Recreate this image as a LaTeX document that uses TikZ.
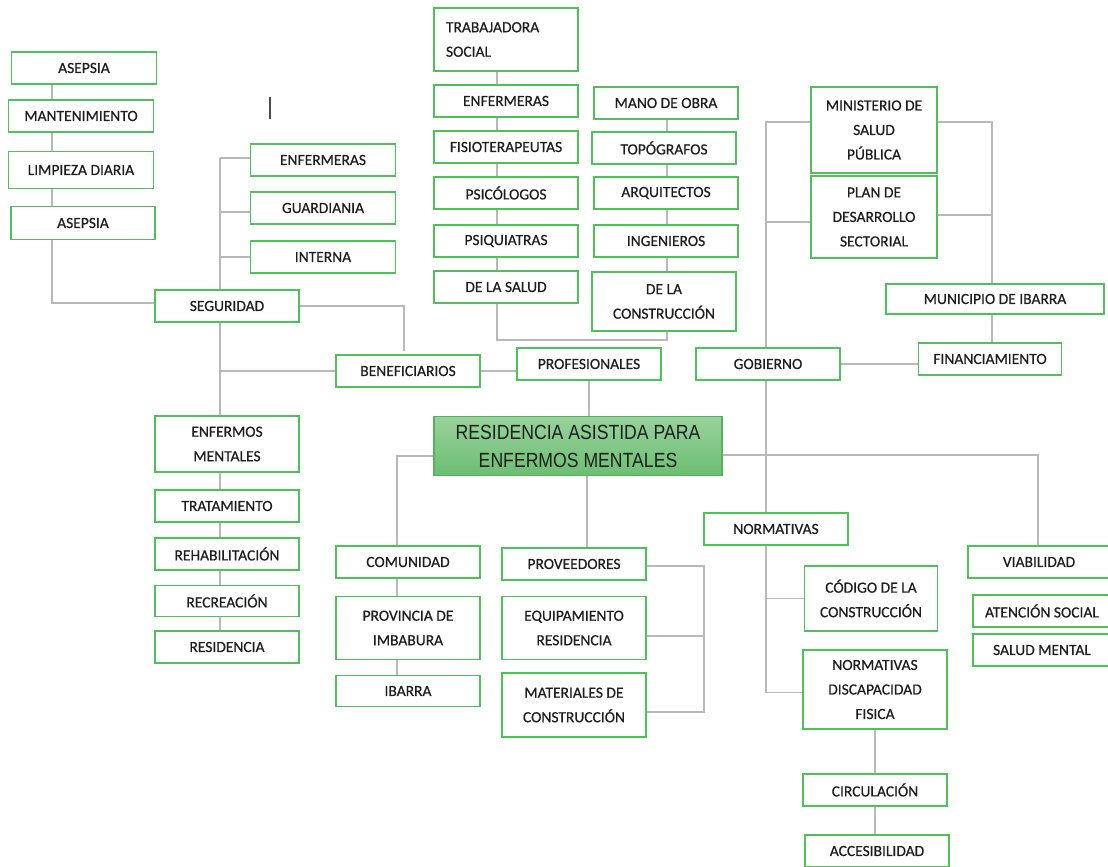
\documentclass[tikz,border=0pt]{standalone}
\usepackage{fontspec}
\setmainfont{Carlito}
\newfontfamily\boxfont[FakeBold=0.5]{Carlito}
\newfontfamily\centralfont[FakeStretch=0.86]{Liberation Sans}
\usetikzlibrary{calc,backgrounds}
\definecolor{boxgreen}{RGB}{80,192,90}
\definecolor{linegray}{RGB}{185,185,185}
\definecolor{txt}{RGB}{30,30,30}
\definecolor{ctop}{RGB}{152,210,156}
\definecolor{cbot}{RGB}{108,190,114}
\definecolor{cborder}{RGB}{90,176,96}
\begin{document}
\begin{tikzpicture}[x=1pt,y=-1pt,
  box/.style={draw=boxgreen, line width=1.4pt, fill=white, inner sep=0pt,
    minimum width=144pt, minimum height=32pt, align=center, text=txt,
    font=\boxfont\fontsize{15.5}{24.5}\selectfont},
  conn/.style={draw=linegray, line width=1.4pt},
  centralbox/.style={draw=cborder, line width=1.4pt, top color=ctop, bottom color=cbot,
    inner sep=0pt, minimum width=288pt, minimum height=59pt, align=center, text=txt,
    font=\centralfont\fontsize{20.5}{28}\selectfont}]
\useasboundingbox (0,0) rectangle (1108,867);

% left column
\node[box, minimum width=145pt] (as1) at (84,68) {ASEPSIA};
\node[box, minimum width=145pt] (mant) at (81,116) {MANTENIMIENTO};
\node[box, minimum width=145pt, minimum height=37pt] (limp) at (81,170) {LIMPIEZA DIARIA};
\node[box, minimum height=33pt] (as2) at (83,223) {ASEPSIA};
\node[box] (seg) at (227,306) {SEGURIDAD};
\node[box, minimum width=145pt] (enf1) at (323,160) {ENFERMERAS};
\node[box, minimum width=145pt] (guard) at (323,208) {GUARDIANIA};
\node[box, minimum width=145pt] (intern) at (323,257) {INTERNA};
\node[box] (benef) at (408,371) {BENEFICIARIOS};
\node[box] (prof) at (589,364) {PROFESIONALES};
\node[centralbox] (central) at (578,446) {RESIDENCIA ASISTIDA PARA\\ENFERMOS MENTALES};
\node[box, minimum height=56pt] (enfm) at (227,444) {ENFERMOS\\MENTALES};
\node[box] (trat) at (227,506) {TRATAMIENTO};
\node[box] (rehab) at (227,554) {REHABILITACIÓN};
\node[box, minimum height=31pt] (recr) at (227,601) {RECREACIÓN};
\node[box] (resid) at (227,647) {RESIDENCIA};
\node[box] (com) at (408,562) {COMUNIDAD};
\node[box, minimum height=63pt] (prov) at (408,628) {PROVINCIA DE\\IMBABURA};
\node[box, minimum height=31pt] (ibarra) at (408,691) {IBARRA};
\node[box] (proveed) at (574,564) {PROVEEDORES};
\node[box, minimum height=63pt] (equip) at (574,628) {EQUIPAMIENTO\\RESIDENCIA};
\node[box, minimum height=64pt] (mat) at (574,705) {MATERIALES DE\\CONSTRUCCIÓN};
% top middle
\node[box, minimum height=63pt, text width=120pt, align=left] (trab) at (506,39.5) {TRABAJADORA\\SOCIAL};
\node[box] (enf2) at (506,101) {ENFERMERAS};
\node[box] (fisio) at (506,147) {FISIOTERAPEUTAS};
\node[box] (psico) at (506,193) {PSICÓLOGOS};
\node[box] (psiq) at (506,241) {PSIQUIATRAS};
\node[box] (salud) at (506,287) {DE LA SALUD};
\node[box] (mano) at (666,103) {MANO DE OBRA};
\node[box] (topo) at (664,148) {TOPÓGRAFOS};
\node[box] (arq) at (666,193) {ARQUITECTOS};
\node[box] (ing) at (666,241) {INGENIEROS};
\node[box, minimum height=59pt] (constr) at (664,301.5) {DE LA\\CONSTRUCCIÓN};
% right
\node[box, minimum width=126pt, minimum height=86pt] (min) at (874,130) {MINISTERIO DE\\SALUD\\PÚBLICA};
\node[box, minimum width=126pt, minimum height=82pt] (plan) at (874,217) {PLAN DE\\DESARROLLO\\SECTORIAL};
\node[box, minimum width=218pt, minimum height=30pt] (mun) at (995,299) {MUNICIPIO DE IBARRA};
\node[box, minimum width=143pt] (fin) at (990,359) {FINANCIAMIENTO};
\node[box] (gob) at (768,364) {GOBIERNO};
\node[box] (norm) at (776,529) {NORMATIVAS};
\node[box, minimum width=133pt, minimum height=65pt] (cod) at (871,598.5) {CÓDIGO DE LA\\CONSTRUCCIÓN};
\node[box, minimum height=79pt] (ndf) at (875,689.5) {NORMATIVAS\\DISCAPACIDAD\\FISICA};
\node[box] (circ) at (875,790) {CIRCULACIÓN};
\node[box] (acc) at (877,851) {ACCESIBILIDAD};
\node[box, minimum width=142pt] (viab) at (1039,562) {VIABILIDAD};
\node[box, minimum width=138pt] (aten) at (1042,611) {ATENCIÓN SOCIAL};
\node[box, minimum width=138pt] (saludm) at (1042,650) {SALUD MENTAL};

\coordinate (xL) at (52,0);
\coordinate (xS) at (220,0);
\coordinate (xBen) at (404,0);
\coordinate (xC) at (397,0);
\coordinate (xP) at (587,0);
\coordinate (xB) at (704,0);
\coordinate (xG) at (766,0);
\coordinate (xM) at (992,0);
\coordinate (xT) at (497,0);
\coordinate (xR) at (667,0);
\coordinate (xV) at (1038,0);
\coordinate (yBot) at (0,340);
\coordinate (st1) at (270,97);
\coordinate (st2) at (270,119);

\begin{pgfonlayer}{background}
\draw[conn] (as1.south -| xL) -- (mant.north -| xL);
\draw[conn] (mant.south -| xL) -- (limp.north -| xL);
\draw[conn] (limp.south -| xL) -- (as2.north -| xL);
\draw[conn] (as2.south -| xL) |- ([yshift=3pt]seg.west);
\draw[conn] ([yshift=2pt]enf1.west -| xS) -- (seg.north -| xS);
\draw[conn] ([yshift=2pt]enf1.west -| xS) -- ([yshift=2pt]enf1.west);
\draw[conn] ([yshift=-4pt]guard.west -| xS) -- ([yshift=-4pt]guard.west);
\draw[conn] (intern.west -| xS) -- (intern.west);
\draw[conn] (seg.east) -| ([yshift=3pt]benef.north -| xBen);
\draw[conn] (seg.south -| xS) -- (enfm.north -| xS);
\draw[conn] (benef.west -| xS) -- (benef.west);
\draw[conn] (benef.east) -- (benef.east -| prof.west);
\draw[conn] (prof.south) -- (prof.south |- central.north);
\draw[conn] ([yshift=-10pt]central.west) -| (com.north -| xC);
\draw[conn] (com.south -| xC) -- (prov.north -| xC);
\draw[conn] (prov.south -| xC) -- (ibarra.north -| xC);
\draw[conn] (enfm.south -| xS) -- (trat.north -| xS);
\draw[conn] (trat.south -| xS) -- (rehab.north -| xS);
\draw[conn] (rehab.south -| xS) -- (recr.north -| xS);
\draw[conn] (recr.south -| xS) -- (resid.north -| xS);
\draw[conn] (central.south -| xP) -- (proveed.north -| xP);
\draw[conn] ([yshift=-2pt]proveed.east) -| ([yshift=-7pt]mat.east -| xB) -- ([yshift=-7pt]mat.east);
\draw[conn] ([yshift=-8pt]equip.east) -- ([yshift=-8pt]equip.east -| xB);
\draw[conn] ([yshift=-9pt]central.east) -| (viab.north -| xV);
\draw[conn] ([yshift=8pt]min.west) -- ([yshift=8pt]min.west -| xG) -- (gob.north -| xG);
\draw[conn] ([yshift=-5pt]plan.west) -- ([yshift=-5pt]plan.west -| xG);
\draw[conn] (gob.south -| xG) -- (norm.north -| xG);
\draw[conn] ([yshift=8pt]min.east) -| (mun.north -| xM);
\draw[conn] ([yshift=2pt]plan.east) -- ([yshift=2pt]plan.east -| xM);
\draw[conn] (mun.south -| xM) -- (fin.north -| xM);
\draw[conn] (gob.east) -- (gob.east -| fin.west);
\draw[conn] (norm.south -| xG) |- ([yshift=-3pt]ndf.west);
\draw[conn] (cod.west -| xG) -- (cod.west);
\draw[conn] (ndf.south) -- (circ.north);
\draw[conn] (circ.south) -- (circ.south |- acc.north);
\draw[conn] (trab.south -| xT) -- (enf2.north -| xT);
\draw[conn] (enf2.south -| xT) -- (fisio.north -| xT);
\draw[conn] (fisio.south -| xT) -- (psico.north -| xT);
\draw[conn] (psico.south -| xT) -- (psiq.north -| xT);
\draw[conn] (psiq.south -| xT) -- (salud.north -| xT);
\draw[conn] (salud.south -| xT) |- (yBot -| xR) -- (constr.south -| xR);
\draw[conn] (mano.south -| xR) -- (topo.north -| xR);
\draw[conn] (topo.south -| xR) -- (arq.north -| xR);
\draw[conn] (arq.south -| xR) -- (ing.north -| xR);
\draw[conn] (ing.south -| xR) -- (constr.north -| xR);
\draw[line width=1.2pt, draw=black!70] (st1) -- (st2);
\end{pgfonlayer}
\end{tikzpicture}
\end{document}
